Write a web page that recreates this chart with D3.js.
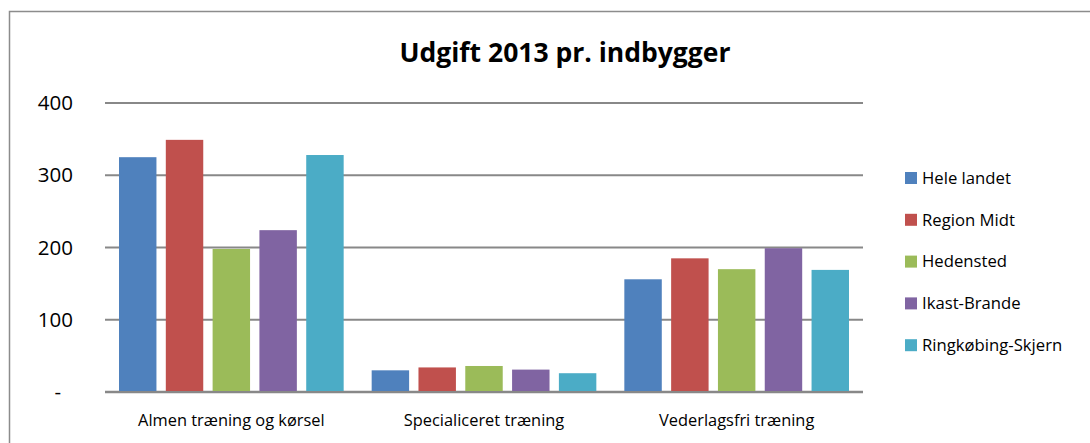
<!DOCTYPE html>
<html>
<head>
<meta charset="utf-8">
<script src="https://cdn.jsdelivr.net/npm/d3@7"></script>
<style>
  body { margin: 0; background: #fff; }
  svg { display: block; font-family: "Open Sans", "Noto Sans", sans-serif; }
</style>
</head>
<body>
<svg id="chart"></svg>
<script>
var categories = ["Almen træning og kørsel", "Specialiceret træning", "Vederlagsfri træning"]
var seriesNames = ["Hele landet", "Region Midt", "Hedensted", "Ikast-Brande", "Ringkøbing-Skjern"]
var heleLandet = [325, 30, 156]
var regionMidt = [349, 34, 185]
var hedensted = [198, 36, 170]
var ikastBrande = [224, 31, 199]
var ringkobing = [328, 26, 169]
var yTicks = [0, 100, 200, 300, 400]
var colors = ["#4F81BD", "#C0504D", "#9BBB59", "#8064A2", "#4BACC6"]

var seriesValues = [heleLandet, regionMidt, hedensted, ikastBrande, ringkobing]

var screen = { width: 1090, height: 443 }
var margins = { left: 105, right: 227, top: 103, bottom: 51 }
var graph = {
    width: screen.width - margins.left - margins.right,
    height: screen.height - margins.top - margins.bottom
}

var svg = d3.select("#chart")
    .attr("width", screen.width)
    .attr("height", screen.height)

// outer chart frame
svg.append("rect")
    .attr("x", 9.5)
    .attr("y", 11.5)
    .attr("width", 1100)
    .attr("height", 500)
    .attr("fill", "none")
    .attr("stroke", "#8c8c8c")
    .attr("stroke-width", 1.5)

var xScale = d3.scaleBand()
    .domain(categories)
    .range([0, graph.width])

var xInner = d3.scaleBand()
    .domain(seriesNames)
    .range([14, xScale.bandwidth() - 14])
    .paddingInner(0.2)

var yScale = d3.scaleLinear()
    .domain([0, 400])
    .range([graph.height, 0])

var target = svg.append("g")
    .attr("transform", "translate(" + margins.left + "," + margins.top + ")")

// gridlines
target.append("g")
    .selectAll("line")
    .data(yTicks)
    .enter()
    .append("line")
    .attr("x1", 0)
    .attr("x2", graph.width)
    .attr("y1", function (d) { return yScale(d) })
    .attr("y2", function (d) { return yScale(d) })
    .attr("stroke", "#888888")
    .attr("stroke-width", function (d) { return d == 0 ? 2.5 : 1.8 })

// bars
var groups = target.append("g")
    .selectAll("g")
    .data(seriesNames)
    .enter()
    .append("g")
    .attr("fill", function (d, i) { return colors[i] })

groups.selectAll("rect")
    .data(function (name, i) {
        return seriesValues[i].map(function (v, j) {
            return { name: name, cat: categories[j], value: v }
        })
    })
    .enter()
    .append("rect")
    .attr("x", function (d) { return xScale(d.cat) + xInner(d.name) })
    .attr("width", xInner.bandwidth())
    .attr("y", function (d) { return yScale(d.value) })
    .attr("height", function (d) { return graph.height - yScale(d.value) - 1 })

// y axis labels
var yAxis = d3.axisLeft(yScale)
    .tickValues(yTicks)
    .tickSize(0)
    .tickPadding(32)
    .tickFormat(function (d) { return d == 0 ? "-" : d })

target.append("g")
    .call(yAxis)
    .call(function (g) { g.select(".domain").remove() })
    .selectAll("text")
    .attr("font-size", 20.5)
    .attr("font-family", "Open Sans, sans-serif")
    .attr("fill", "#000")
    .attr("dx", function (d) { return d == 0 ? -12 : 0 })

// x axis labels
var xAxis = d3.axisBottom(xScale)
    .tickSize(0)
    .tickPadding(22)

target.append("g")
    .attr("transform", "translate(0," + graph.height + ")")
    .call(xAxis)
    .call(function (g) { g.select(".domain").remove() })
    .selectAll("text")
    .attr("font-size", 16.4)
    .attr("font-family", "Open Sans, sans-serif")
    .attr("fill", "#000")

// title
svg.append("text")
    .text("Udgift 2013 pr. indbygger")
    .attr("x", 565)
    .attr("y", 62)
    .attr("text-anchor", "middle")
    .attr("font-size", 26.5)
    .attr("font-weight", "bold")
    .attr("fill", "#000")

// legend
var legend = svg.append("g")
    .attr("transform", "translate(905,178)")
    .selectAll("g")
    .data(seriesNames)
    .enter()
    .append("g")
    .attr("transform", function (d, i) { return "translate(0," + (i * 41.8) + ")" })

legend.append("rect")
    .attr("x", 0)
    .attr("y", -6)
    .attr("width", 12)
    .attr("height", 12)
    .attr("fill", function (d, i) { return colors[i] })

legend.append("text")
    .text(function (d) { return d })
    .attr("x", 17)
    .attr("y", 0)
    .attr("dy", "0.35em")
    .attr("font-size", 16.7)
    .attr("fill", "#000")
</script>
</body>
</html>
